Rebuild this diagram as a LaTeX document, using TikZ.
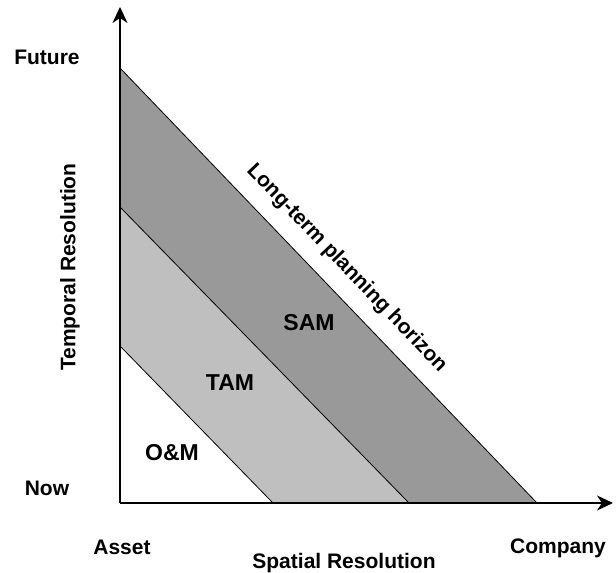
\documentclass[tikz,border=0pt]{standalone}
\usepackage{fontspec}
\setmainfont{Liberation Sans}
\usetikzlibrary{arrows.meta, positioning}

\begin{document}
\begin{tikzpicture}[x=1pt, y=1pt, >={Stealth[length=16pt, width=15pt, inset=5pt]}]
    \tikzstyle{lbl} = [font=\bfseries\fontsize{21}{25}\selectfont, inner sep=0pt]
    \tikzstyle{zone} = [font=\bfseries\fontsize{23}{27}\selectfont, inner sep=0pt]
    \tikzstyle{band} = [draw, line width=0.8pt]
    \useasboundingbox (0,0) rectangle (616,573);
    \coordinate (origin) at (120,70);
    \coordinate (ytip) at (120,566);
    \coordinate (xtip) at (613,70);
    \coordinate (samtop) at (120,505);
    \coordinate (samend) at (537,70);
    \coordinate (tamtop) at (120,366);
    \coordinate (tamend) at (409,70);
    \coordinate (omtop) at (120,227);
    \coordinate (omend) at (273,70);
    % bands
    \fill[black!40] (origin) -- (samtop) -- (samend) -- cycle;
    \fill[black!25] (origin) -- (tamtop) -- (tamend) -- cycle;
    \fill[white] (origin) -- (omtop) -- (omend) -- cycle;
    \draw[band] (samtop) -- (samend);
    \draw[band] (tamtop) -- (tamend);
    \draw[band] (omtop) -- (omend);
    % axes
    \draw[->, line width=1.3pt] (origin) -- (ytip);
    \draw[->, line width=1.3pt] (origin) -- (xtip);
    \node [lbl] at (47,516) (future) {Future};
    \node [lbl] at (47,85) (now) {Now};
    \node [lbl, rotate=90] at (70,306) (temporal) {Temporal Resolution};
    \node [lbl] at (122,26) (asset) {Asset};
    \node [lbl] at (558,25) (company) {Company};
    \node [lbl] at (344,10) (spatial) {Spatial Resolution};
    \node [zone] at (172,120) (om) {O\&M};
    \node [zone] at (230,190) (tam) {TAM};
    \node [zone] at (309,250) (sam) {SAM};
    \path (samtop) -- (samend) node [lbl, pos=0.5, sloped, above=15pt] (horizon) {Long-term planning horizon};
\end{tikzpicture}
\end{document}
